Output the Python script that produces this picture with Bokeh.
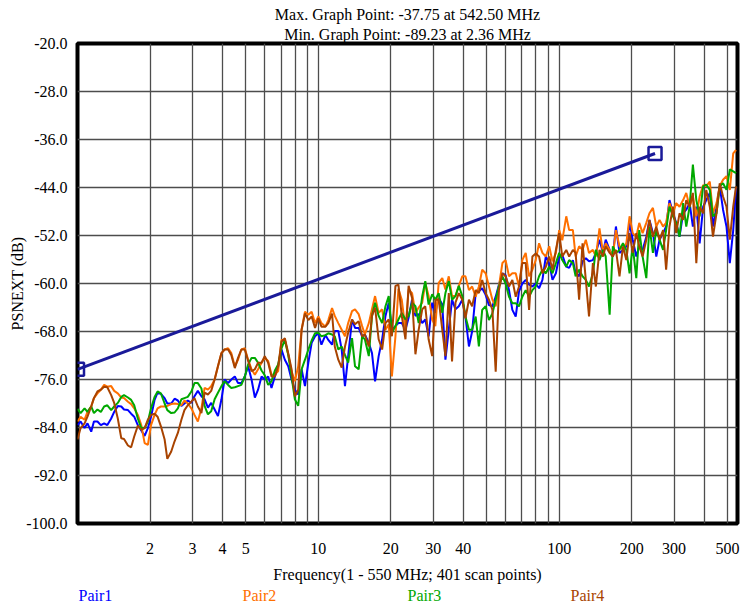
from bokeh.plotting import figure
from bokeh.layouts import column
from bokeh.models import (Range1d, FixedTicker, Title, PrintfTickFormatter,
                          BasicTickFormatter, ColumnDataSource)
from bokeh.core.properties import value
from bokeh.embed import file_html
from bokeh.resources import INLINE

FONT = "Liberation Serif"

# ---------------- data ----------------
freq_mhz = [
    1.00, 1.03, 1.07, 1.10, 1.14, 1.17, 1.21, 1.25, 1.29, 1.33,
    1.38, 1.42, 1.47, 1.52, 1.56, 1.62, 1.67, 1.72, 1.78, 1.84,
    1.90, 1.96, 2.02, 2.09, 2.15, 2.22, 2.30, 2.36, 2.45, 2.53,
    2.61, 2.70, 2.78, 2.87, 2.97, 3.06, 3.16, 3.27, 3.37, 3.48,
    3.59, 3.71, 3.83, 3.96, 4.08, 4.22, 4.35, 4.50, 4.64, 4.79,
    4.95, 5.11, 5.28, 5.45, 5.62, 5.81, 5.99, 6.19, 6.39, 6.60,
    6.81, 7.03, 7.26, 7.50, 7.74, 7.99, 8.25, 8.52, 8.80, 9.09,
    9.38, 9.69,
    10.0, 10.3, 10.7, 11.0, 11.4, 11.7, 12.1, 12.5, 12.9, 13.3,
    13.8, 14.2, 14.7, 15.2, 15.6, 16.2, 16.7, 17.2, 17.8, 18.4,
    19.0, 19.6, 20.2, 20.9, 21.5, 22.2, 23.0, 23.7, 24.5, 25.3,
    26.1, 27.0, 27.8, 28.7, 29.7, 30.6, 31.6, 32.7, 33.7, 34.8,
    35.9, 37.1, 38.3, 39.6, 40.8, 42.2, 43.5, 45.0, 46.4, 47.9,
    49.5, 51.1, 52.8, 54.5, 56.2, 58.1, 59.9, 61.9, 63.9, 66.0,
    68.1, 70.3, 72.6, 75.0, 77.4, 79.9, 82.5, 85.2, 88.0, 90.9,
    93.8, 96.9,
    100, 103, 107, 110, 114, 117, 121, 125, 129, 133,
    138, 142, 147, 152, 156, 162, 167, 172, 178, 184,
    190, 196, 202, 209, 215, 222, 230, 237, 245, 253,
    261, 270, 278, 287, 297, 306, 316, 327, 337, 348,
    359, 371, 383, 396, 408, 422, 435, 450, 464, 479,
    495, 511, 528, 542.5,
]

pair1 = [
    -83.6, -83.0, -84.1, -83.3, -84.7, -83.0, -83.0, -83.6, -83.3, -83.6,
    -82.5, -81.4, -80.4, -80.5, -81.0, -81.1, -81.7, -82.2, -83.6, -84.5,
    -85.4, -84.1, -82.2, -79.4, -78.2, -78.4, -79.1, -80.0, -80.0, -79.2,
    -79.5, -80.4, -80.0, -79.5, -79.9, -78.8, -77.9, -78.8, -79.3, -80.7,
    -79.9, -81.0, -82.1, -79.3, -76.0, -76.6, -76.0, -75.5, -76.6, -76.6,
    -75.5, -73.8, -76.0, -79.0, -77.7, -75.5, -76.0, -75.5, -77.4, -75.5,
    -73.8, -71.0, -72.7, -73.8, -76.0, -77.7, -78.5, -74.3, -77.1, -73.2,
    -69.9, -68.8, -68.3, -70.2, -68.6, -69.4, -70.2, -67.9, -67.9, -71.0,
    -77.1, -72.1, -66.0, -67.4, -67.4, -68.8, -68.5, -69.9, -71.6, -76.3,
    -72.1, -69.3, -65.4, -63.2, -67.7, -67.1, -66.6, -66.6, -67.7, -65.7,
    -62.7, -65.4, -65.1, -66.6, -66.0, -68.8, -63.2, -64.9, -62.4, -63.5,
    -72.7, -67.7, -62.7, -64.3, -63.8, -62.7, -65.5, -70.5, -68.0, -61.6,
    -61.3, -60.8, -61.9, -63.6, -63.8, -62.2, -60.2, -58.3, -58.6, -61.1,
    -64.4, -65.5, -61.3, -60.0, -59.4, -60.2, -60.5, -60.0, -60.8, -59.4,
    -55.5, -56.6, -59.4, -58.3, -55.5, -55.2, -57.2, -57.4, -56.1, -58.3,
    -58.8, -56.3, -55.8, -56.3, -56.1, -54.9, -52.7, -54.9, -52.7, -54.4,
    -55.5, -50.5, -54.9, -54.4, -53.8, -49.9, -52.7, -55.5, -53.8, -54.4,
    -52.2, -49.4, -51.6, -55.5, -52.7, -51.6, -50.5, -46.1, -48.3, -49.9,
    -52.2, -48.3, -47.7, -46.6, -50.5, -47.2, -53.3, -47.2, -46.1, -44.9,
    -50.5, -47.2, -43.8, -47.7, -50.5, -56.6, -51.1, -44.0,
]

pair2 = [
    -83.0, -82.2, -82.7, -81.4, -80.5, -79.1, -78.3, -77.7, -76.9, -77.2,
    -77.1, -77.9, -78.3, -79.0, -79.1, -79.7, -80.1, -80.8, -81.9, -83.6,
    -86.6, -86.9, -83.6, -81.9, -80.8, -80.5, -80.5, -80.4, -80.1, -80.0,
    -80.1, -80.3, -79.5, -80.0, -80.8, -81.9, -83.0, -80.8, -77.4, -77.7,
    -77.1, -76.0, -73.8, -71.6, -71.0, -70.8, -71.6, -73.8, -72.7, -71.0,
    -70.8, -72.7, -74.3, -75.2, -74.3, -73.2, -72.4, -72.9, -75.2, -75.2,
    -74.6, -69.4, -69.4, -71.9, -74.6, -76.3, -73.8, -67.7, -64.7, -65.2,
    -64.7, -66.6, -65.5, -66.6, -67.2, -66.1, -64.1, -65.4, -66.6, -67.7,
    -68.8, -66.6, -64.6, -64.3, -65.1, -67.1, -68.5, -66.6, -64.3, -62.1,
    -64.9, -64.3, -67.7, -66.8, -75.5, -68.8, -60.9, -62.7, -67.7, -61.0,
    -61.6, -64.9, -64.0, -63.2, -59.9, -62.1, -66.0, -67.1, -59.9, -59.1,
    -61.0, -58.8, -62.1, -62.1, -60.4, -58.8, -58.8, -61.1, -60.5, -62.2,
    -60.5, -57.7, -58.3, -60.5, -62.7, -63.8, -60.5, -56.6, -56.1, -58.8,
    -58.3, -58.3, -60.5, -56.1, -54.9, -58.8, -57.7, -56.1, -53.3, -54.9,
    -55.5, -53.8, -56.3, -54.9, -51.1, -52.8, -48.8, -51.1, -51.1, -55.5,
    -53.8, -54.4, -52.7, -54.9, -54.4, -55.5, -50.8, -54.9, -53.3, -54.4,
    -55.5, -51.1, -53.8, -54.4, -53.3, -48.8, -51.6, -52.2, -49.9, -51.6,
    -49.9, -48.3, -47.4, -50.5, -49.4, -50.5, -49.9, -46.6, -48.3, -46.6,
    -47.2, -46.1, -44.9, -47.2, -45.5, -48.8, -45.5, -43.6, -43.8, -43.0,
    -48.3, -46.6, -43.8, -42.7, -42.1, -44.4, -38.3, -37.75,
]

pair3 = [
    -80.9, -81.6, -80.8, -81.4, -80.5, -81.6, -81.0, -81.4, -80.5, -80.3,
    -81.1, -80.5, -79.9, -78.9, -78.6, -79.0, -79.4, -80.3, -82.5, -84.1,
    -84.1, -83.0, -80.8, -78.9, -78.0, -78.3, -80.0, -81.1, -81.6, -81.5,
    -80.8, -79.3, -79.1, -78.9, -78.0, -76.6, -76.6, -77.5, -80.4, -81.8,
    -81.3, -79.3, -78.2, -77.1, -76.3, -76.9, -77.4, -77.3, -77.1, -76.9,
    -75.5, -73.5, -72.4, -72.4, -73.2, -74.5, -75.3, -76.9, -76.3, -74.5,
    -73.5, -70.8, -69.4, -71.9, -75.5, -79.3, -80.4, -74.3, -72.7, -71.0,
    -69.5, -68.3, -68.2, -68.8, -68.6, -68.3, -68.5, -68.8, -71.0, -70.5,
    -71.9, -73.2, -69.1, -73.8, -74.3, -68.8, -69.3, -72.1, -65.4, -63.2,
    -65.4, -66.6, -63.8, -62.1, -68.2, -67.1, -66.0, -64.9, -66.0, -65.4,
    -63.2, -63.8, -66.6, -62.1, -59.6, -63.5, -61.8, -62.7, -61.6, -64.9,
    -61.6, -59.6, -62.7, -62.1, -60.4, -62.1, -65.5, -67.7, -67.7, -65.5,
    -70.5, -64.4, -63.8, -66.1, -65.0, -62.7, -60.5, -58.8, -60.0, -62.2,
    -63.3, -63.3, -63.8, -62.2, -61.1, -62.2, -61.1, -60.5, -58.8, -57.7,
    -58.3, -57.2, -58.3, -56.6, -54.9, -56.1, -57.2, -56.1, -56.6, -58.8,
    -57.7, -58.8, -59.4, -60.5, -58.3, -54.4, -56.1, -54.4, -55.5, -65.2,
    -53.8, -54.9, -54.4, -53.3, -54.4, -58.3, -53.8, -59.1, -51.1, -55.5,
    -59.1, -50.5, -54.9, -51.1, -52.7, -54.4, -51.1, -47.2, -48.8, -49.9,
    -52.2, -46.6, -50.5, -47.2, -40.2, -46.1, -48.8, -43.8, -43.5, -44.4,
    -48.8, -48.3, -43.8, -43.3, -44.4, -41.0, -41.3, -41.6,
]

pair4 = [
    -86.0, -84.1, -83.3, -82.2, -80.5, -79.1, -78.0, -77.7, -77.2, -77.3,
    -78.6, -79.9, -82.5, -85.8, -85.9, -87.0, -87.3, -85.5, -83.7, -84.4,
    -84.1, -82.7, -81.9, -81.7, -82.2, -83.8, -86.0, -89.23, -88.0, -86.3,
    -84.9, -82.7, -81.1, -80.3, -79.7, -79.1, -80.5, -81.6, -78.2, -78.5,
    -77.9, -76.0, -73.8, -71.6, -71.0, -71.0, -71.9, -74.1, -72.4, -71.0,
    -71.0, -72.9, -74.6, -74.3, -73.2, -73.2, -72.1, -73.2, -75.5, -75.5,
    -73.8, -69.7, -69.1, -71.6, -74.3, -78.8, -77.7, -67.7, -65.0, -66.1,
    -65.5, -67.4, -65.8, -67.2, -67.2, -66.6, -65.0, -70.5, -72.7, -74.0,
    -70.5, -68.2, -66.0, -66.8, -66.3, -68.8, -68.5, -70.5, -65.4, -64.0,
    -69.3, -71.0, -66.6, -66.0, -68.8, -60.4, -60.2, -65.4, -69.3, -60.4,
    -62.4, -71.8, -67.7, -64.3, -63.8, -69.3, -72.1, -62.7, -62.7, -67.7,
    -72.1, -61.6, -73.0, -63.2, -61.6, -62.7, -65.8, -62.7, -63.8, -61.1,
    -61.6, -59.4, -61.6, -62.7, -64.4, -74.7, -61.1, -58.3, -58.8, -60.5,
    -59.4, -62.2, -60.5, -56.6, -56.6, -64.4, -55.5, -55.0, -55.5, -58.3,
    -57.2, -55.5, -57.7, -54.4, -51.6, -55.5, -54.4, -55.5, -54.4, -54.9,
    -62.7, -53.3, -59.4, -65.5, -56.6, -60.5, -54.4, -55.5, -53.8, -54.9,
    -55.5, -54.4, -58.8, -53.8, -56.1, -51.6, -54.9, -51.6, -53.8, -55.5,
    -52.7, -49.4, -52.2, -50.5, -52.7, -51.1, -57.7, -50.5, -47.2, -51.6,
    -48.3, -49.4, -46.1, -47.2, -44.9, -56.6, -47.2, -48.3, -44.4, -47.2,
    -52.2, -48.3, -43.3, -45.5, -47.2, -52.7, -47.2, -43.8,
]

limit_freq = [1, 250]
limit_db = [-74.3, -38.33]

series_names = ["Pair1", "Pair2", "Pair3", "Pair4"]
series_colors = ["#0000FF", "#FF7000", "#00A800", "#A84300"]

x_ticks = [2, 3, 4, 5, 6, 7, 8, 9, 10, 20, 30, 40, 50, 60, 70, 80, 90, 100, 200, 300, 400, 500]
x_labels = {2: "2", 3: "3", 4: "4", 5: "5", 6: "", 7: "", 8: "", 9: "", 10: "10",
            20: "20", 30: "30", 40: "40", 50: "", 60: "", 70: "", 80: "", 90: "",
            100: "100", 200: "200", 300: "300", 400: "", 500: "500"}
y_ticks = [-100, -92, -84, -76, -68, -60, -52, -44, -36, -28, -20]

title_lines = ["Max. Graph Point: -37.75 at 542.50 MHz", "Min. Graph Point: -89.23 at 2.36 MHz"]
x_title = "Frequency(1 - 550 MHz; 401 scan points)"
y_title = "PSNEXT (dB)"

# ---------------- main figure ----------------
W = 740
H_MAIN, H_LEG = 586, 20
BL, BR = 77, 3

p = figure(width=W, height=H_MAIN, x_axis_type="log", title=None,
           x_range=Range1d(1, 550), y_range=Range1d(-100, -20),
           output_backend="svg", toolbar_location=None,
           min_border_left=BL, min_border_right=BR, min_border_top=43, min_border_bottom=63)
p.background_fill_color = "white"
p.border_fill_color = "white"
p.outline_line_color = "black"
p.outline_line_width = 4

# two-line title (first added sits closest to the plot)
p.add_layout(Title(text=title_lines[1], align="center", standoff=2,
                   text_font=FONT, text_font_size="16px", text_font_style="normal",
                   text_color="black"), "above")
p.add_layout(Title(text=title_lines[0], align="center", standoff=0,
                   text_font=FONT, text_font_size="16px", text_font_style="normal",
                   text_color="black"), "above")

# axes
p.xaxis.ticker = FixedTicker(ticks=x_ticks)
p.xaxis.formatter = BasicTickFormatter()
p.xaxis.major_label_overrides = x_labels
p.yaxis.ticker = FixedTicker(ticks=y_ticks)
p.yaxis.formatter = PrintfTickFormatter(format="%.1f")
p.xgrid.ticker = FixedTicker(ticks=x_ticks)
p.ygrid.ticker = FixedTicker(ticks=y_ticks)

for ax in (p.xaxis[0], p.yaxis[0]):
    ax.axis_line_color = None
    ax.major_tick_line_color = None
    ax.minor_tick_line_color = None
    ax.major_label_text_font = FONT
    ax.major_label_text_font_size = "16px"
    ax.major_label_text_color = "black"
    ax.axis_label_text_font = FONT
    ax.axis_label_text_font_size = "16px"
    ax.axis_label_text_font_style = "normal"
    ax.axis_label_text_color = "black"

p.xaxis.axis_label = x_title
p.yaxis.axis_label = y_title
p.xaxis.major_label_standoff = 13
p.xaxis.axis_label_standoff = 9
p.yaxis.major_label_standoff = 4
p.yaxis.axis_label_standoff = -3

p.grid.grid_line_color = "#4d4d4d"
p.grid.grid_line_width = 1.3

# data series
for ys, name, col in zip([pair1, pair2, pair3, pair4], series_names, series_colors):
    p.line(freq_mhz[:len(ys)], ys, line_color=col, line_width=2)

# limit line
LIM = "#1A1A99"
p.line(limit_freq, limit_db, line_color=LIM, line_width=3)
p.scatter(limit_freq, limit_db, marker="square", size=13, fill_color=None,
          line_color=LIM, line_width=2.5)

# ---------------- legend row (page-pixel x coordinates) ----------------
leg = figure(width=W, height=H_LEG, x_range=Range1d(BL, W - BR), y_range=Range1d(0, H_LEG),
             output_backend="svg", toolbar_location=None,
             x_axis_location=None, y_axis_location=None,
             min_border_left=BL, min_border_right=BR, min_border_top=0, min_border_bottom=0)
leg.grid.visible = False
leg.outline_line_color = None
leg.background_fill_color = "white"
leg.border_fill_color = "white"
leg_src = ColumnDataSource(dict(x=[78, 242, 407, 570], y=[H_LEG / 2 + 1] * 4,
                                text=series_names, color=series_colors))
leg.text(x="x", y="y", text="text", text_color="color", source=leg_src,
         text_align="left", text_baseline="middle",
         text_font=value(FONT), text_font_size="16px")

layout = column(p, leg, spacing=0)
open("out.html", "w").write(file_html(layout, INLINE))
